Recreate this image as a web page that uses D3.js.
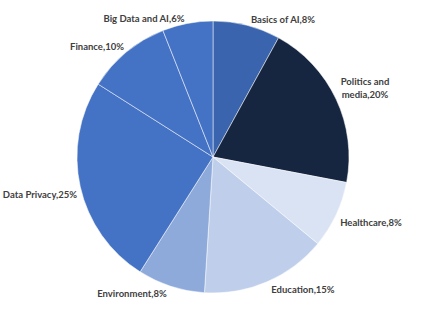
<!DOCTYPE html>
<html>
<head>
<meta charset="utf-8">
<script src="https://cdn.jsdelivr.net/npm/d3@7"></script>
<style>
  body { margin: 0; background: #fff; }
  text { font-family: Lato, "Open Sans", sans-serif; font-weight: bold; fill: #404040; }
</style>
</head>
<body>
<svg width="422" height="326"></svg>
<script>
// Data (clockwise from 12 o'clock)
const categories = ["Basics of AI", "Politics and media", "Healthcare", "Education",
                    "Environment", "Data Privacy", "Finance", "Big Data and AI"];
const shares = [8, 20, 8, 15, 8, 25, 10, 6];

// Slice colours
const colors = ["#3a64ad", "#172640", "#dae3f3", "#bfceea", "#8eaadb", "#4472c4", "#4472c4", "#4472c4"];

// Label placement relative to the pie centre (dx, dy)
const labelPos = [[70, -137], [152, -75], [158, 66], [90, 133],
                  [-81, 137], [-173, 38], [-116, -110], [-69, -138]];

const cx = 213, cy = 157, radius = 136;

const svg = d3.select("svg");
const g = svg.append("g").attr("transform", `translate(${cx},${cy})`);

const pie = d3.pie().sort(null).value(d => d.value);
const arc = d3.arc().innerRadius(0).outerRadius(radius);

const data = categories.map((c, i) => ({ name: c, value: shares[i], i }));

g.selectAll("path")
  .data(pie(data))
  .join("path")
  .attr("d", arc)
  .attr("fill", d => colors[d.data.i])
  .attr("stroke", "#fff")
  .attr("stroke-width", 0.5);

// Labels
const labels = g.selectAll("text.lbl")
  .data(data)
  .join("text")
  .attr("class", "lbl")
  .attr("text-anchor", "middle")
  .attr("font-size", 9.5)
  .attr("x", d => labelPos[d.i][0])
  .attr("y", d => labelPos[d.i][1])
  .attr("dy", "0.35em");

labels.each(function(d) {
  const t = d3.select(this);
  if (d.name === "Politics and media") {
    t.append("tspan").attr("x", labelPos[d.i][0]).text("Politics and");
    t.append("tspan").attr("x", labelPos[d.i][0]).attr("dy", 13).text("media," + d.value + "%");
  } else {
    t.text(d.name + "," + d.value + "%");
  }
});
</script>
</body>
</html>
